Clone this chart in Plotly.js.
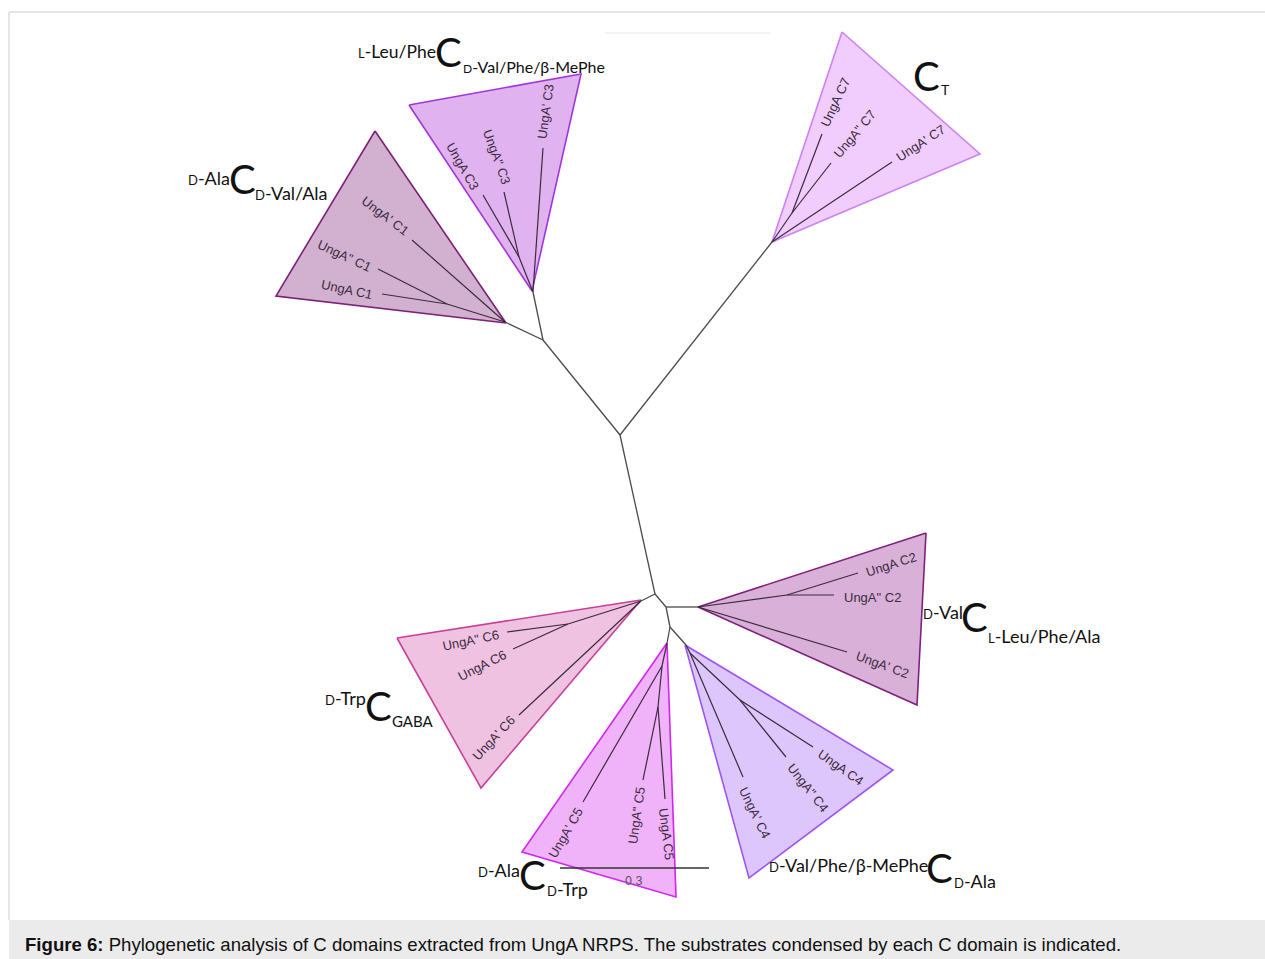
<!DOCTYPE html>
<html>
<head>
<meta charset="utf-8">
<script src="https://cdn.plot.ly/plotly-3.0.1.min.js"></script>
<style>
html,body{margin:0;padding:0;background:#fff;}
#chart{width:1265px;height:959px;}
</style>
</head>
<body>
<div id="chart"></div>
<script>
// ---------------- DATA ----------------
// Tree nodes (unrooted tree layout, figure pixel units)
const nodeId = ['A','B','D','E','F',
  'c1','c1n','c3','c3n','c7','c7n','c2','c2n','c6','c6n','c5','c5n1','c5n2','c4','c4n1','c4n2',
  "UngA' C1",'UngA" C1','UngA C1',
  'UngA C3','UngA" C3',"UngA' C3",
  'UngA C7','UngA" C7',"UngA' C7",
  'UngA C2','UngA" C2',"UngA' C2",
  'UngA" C6','UngA C6',"UngA' C6",
  "UngA' C5",'UngA" C5','UngA C5',
  "UngA' C4",'UngA" C4','UngA C4'];
const nodeX = [620,655,666,670,543,
  505,447,533,519,772,792,698,787,641,568,667,662,658,686,690,740,
  412,378,382,
  483,504,543,
  822,831,892,
  858,834,847,
  507,513,519,
  583,643,665,
  743,786,813];
const nodeY = [435,594,607,627,340,
  322,304,292,257,242,213,607,595,601,624,643,666,707,645,653,700,
  240,269,294,
  195,192,148,
  134,163,162,
  573,595,652,
  632,649,715,
  802,780,799,
  777,757,747];

// backbone edges
const backFrom = ['A','A','A','F','F','B','B','D','D','E','E'];
const backTo   = ['B','F','c7','c1','c3','c6','D','c2','E','c5','c4'];

// within-clade edges
const leafFrom = ['c1','c1','c1n','c1n',
  'c3','c3','c3n','c3n',
  'c7','c7','c7n','c7n',
  'c2','c2','c2n','c2n',
  'c6','c6','c6n','c6n',
  'c5','c5n1','c5n1','c5n2','c5n2',
  'c4','c4n1','c4n1','c4n2','c4n2'];
const leafTo = ["UngA' C1",'c1n','UngA" C1','UngA C1',
  "UngA' C3",'c3n','UngA C3','UngA" C3',
  "UngA' C7",'c7n','UngA C7','UngA" C7',
  "UngA' C2",'c2n','UngA C2','UngA" C2',
  "UngA' C6",'c6n','UngA" C6','UngA C6',
  'c5n1',"UngA' C5",'c5n2','UngA" C5','UngA C5',
  'c4n1',"UngA' C4",'c4n2','UngA" C4','UngA C4'];

// collapsed clade triangles
const cladeName = ['C1','C3','C7','C2','C6','C5','C4'];
const cladeVX = [[375,276,506],[409,581,532],[842,980,772],[926,917,698],[397,481,641],[667,522,676],[685,893,749]];
const cladeVY = [[131,296,323],[105,74,291],[32,154,242],[533,705,607],[638,788,600],[643,852,897],[645,770,878]];

// leaf label texts
const leafNames = ["UngA' C1",'UngA" C1','UngA C1',
  'UngA C3','UngA" C3',"UngA' C3",
  'UngA C7','UngA" C7',"UngA' C7",
  'UngA C2','UngA" C2',"UngA' C2",
  'UngA" C6','UngA C6',"UngA' C6",
  "UngA' C5",'UngA" C5','UngA C5',
  'UngA C4','UngA" C4',"UngA' C4"];

// substrate labels: prefix, subscript
const subPrefix = ['<span style="font-size:13px">D</span>-Ala',
  '<span style="font-size:13px">L</span>-Leu/Phe',
  '',
  '<span style="font-size:13px">D</span>-Val',
  '<span style="font-size:13px">D</span>-Trp',
  '<span style="font-size:13px">D</span>-Ala',
  '<span style="font-size:13px">D</span>-Val/Phe/β-MePhe'];
const subSuffix = ['<span style="font-size:13px">D</span>-Val/Ala',
  '<span style="font-size:12px">D</span>-Val/Phe/β-MePhe',
  'T',
  '<span style="font-size:13px">L</span>-Leu/Phe/Ala',
  'GABA',
  '<span style="font-size:13px">D</span>-Trp',
  '<span style="font-size:13px">D</span>-Ala'];

const scaleLabel = '0.3';
const scaleLength = 149;
const captionBold = 'Figure 6:';
const captionText = ' Phylogenetic analysis of C domains extracted from UngA NRPS. The substrates condensed by each C domain is indicated.';

// ---------------- STYLE / PLACEMENT ----------------
const cladeFill   = ['#d2b1d0','#e0b3f0','#f0cdfc','#d9b1d8','#f0c2e2','#f0b3fa','#ddc6fc'];
const cladeStroke = ['#7d2077','#a335d8','#cc82f2','#80207c','#c8409a','#d026f0','#9c55f2'];
// leaf label centre and angle
const leafLX = [385,344,347, 463,497,545, 835,854,920, 891,872,882, 470,482,493, 565,636,667, 841,808,755];
const leafLY = [215,255,289, 166,156,112, 102,134,143, 564,597,664, 640,665,738, 833,816,834, 767,787,812];
const leafLA = [37,25,12, 60,70,-82, -65,-50,-33, -18,0,20, -12,-27,-47, -60,-82,83, 35,52,64];
// substrate label anchors: prefix right x / y, C left x / y, subscript left x / y
const subPX = [230,436,0,963,366,520,928];
const subPY = [178,51,0,612,698,870,865];
const subCX = [229,435,913,961,365,519,926];
const subCY = [179,52,76,617,706,875,868];
const subSX = [255,463,941,988,392,547,954];
const subSY = [193,66,89,636,721,889,881];
const subSSize = [18,16,14,18,15,18,18];
const subPSize = [18,17.5,18,18,18,18,18];

// ---------------- BUILD ----------------
const idx = {};
nodeId.forEach((n,i)=>idx[n]=i);
function segs(from,to){
  const x=[],y=[];
  from.forEach((f,i)=>{
    x.push(nodeX[idx[f]],nodeX[idx[to[i]]],null);
    y.push(nodeY[idx[f]],nodeY[idx[to[i]]],null);
  });
  return {x,y};
}
const traces=[];
cladeName.forEach((c,i)=>{
  traces.push({type:'scatter',mode:'lines',
    x:[...cladeVX[i],cladeVX[i][0]], y:[...cladeVY[i],cladeVY[i][0]],
    fill:'toself',fillcolor:cladeFill[i],
    line:{color:cladeStroke[i],width:1.6},hoverinfo:'skip',name:c});
});
const bb=segs(backFrom,backTo);
traces.push({type:'scatter',mode:'lines',x:bb.x,y:bb.y,line:{color:'#4a4a4a',width:1.3},hoverinfo:'skip'});
const lf=segs(leafFrom,leafTo);
traces.push({type:'scatter',mode:'lines',x:lf.x,y:lf.y,line:{color:'#3b2b3d',width:1.2},hoverinfo:'skip'});
// scale bar
traces.push({type:'scatter',mode:'lines',x:[560,560+scaleLength],y:[868,868],line:{color:'#333',width:1.3},hoverinfo:'skip'});

const ann=[];
leafNames.forEach((t,i)=>{
  ann.push({x:leafLX[i],y:leafLY[i],xref:'x',yref:'y',text:t,showarrow:false,
    textangle:leafLA[i],xanchor:'center',yanchor:'middle',borderpad:0,borderwidth:0,
    font:{family:'Liberation Sans, Arial, sans-serif',size:13,color:'#3d2b40'}});
});
const bigFont='Lato, "Open Sans", sans-serif';
const cFont='"Liberation Sans Narrow", Lato, sans-serif';
cladeName.forEach((c,i)=>{
  if(subPrefix[i]) ann.push({x:subPX[i],y:subPY[i],xref:'x',yref:'y',text:subPrefix[i],showarrow:false,
    xanchor:'right',yanchor:'middle',borderpad:0,borderwidth:0,font:{family:bigFont,size:subPSize[i],color:'#111'}});
  ann.push({x:subCX[i],y:subCY[i],xref:'x',yref:'y',text:'C',showarrow:false,
    xanchor:'left',yanchor:'middle',borderpad:0,borderwidth:0,font:{family:cFont,size:40,color:'#111'}});
  ann.push({x:subSX[i],y:subSY[i],xref:'x',yref:'y',text:subSuffix[i],showarrow:false,
    xanchor:'left',yanchor:'middle',borderpad:0,borderwidth:0,font:{family:bigFont,size:subSSize[i],color:'#111'}});
});
ann.push({x:633,y:881,xref:'x',yref:'y',text:scaleLabel,showarrow:false,xanchor:'center',yanchor:'middle',
  borderpad:0,borderwidth:0,font:{family:'Liberation Sans, Arial, sans-serif',size:12.5,color:'#555'}});
ann.push({x:25,y:944,xref:'x',yref:'y',text:'<b>'+captionBold+'</b>'+captionText,showarrow:false,
  xanchor:'left',yanchor:'middle',borderpad:0,borderwidth:0,
  font:{family:'Liberation Sans, Arial, sans-serif',size:18.6,color:'#111'}});

const shapes=[
  {type:'rect',xref:'x',yref:'y',x0:9,x1:1266,y0:920,y1:960,fillcolor:'#ebebeb',line:{width:0},layer:'below'},
  {type:'line',xref:'x',yref:'y',x0:9,x1:1266,y0:12,y1:12,line:{color:'#dcdcdc',width:1.5},layer:'below'},
  {type:'line',xref:'x',yref:'y',x0:9,x1:9,y0:12,y1:920,line:{color:'#dcdcdc',width:1.5},layer:'below'},
  {type:'line',xref:'x',yref:'y',x0:605,x1:770,y0:33,y1:33,line:{color:'#efefef',width:1.5},layer:'below'}
];

const layout={width:1265,height:959,margin:{l:0,r:0,t:0,b:0},
  paper_bgcolor:'#fff',plot_bgcolor:'#fff',showlegend:false,
  xaxis:{range:[0,1265],visible:false,fixedrange:true},
  yaxis:{range:[959,0],visible:false,fixedrange:true},
  annotations:ann,shapes:shapes};
Plotly.newPlot('chart',traces,layout,{displayModeBar:false,staticPlot:true});
</script>
</body>
</html>
